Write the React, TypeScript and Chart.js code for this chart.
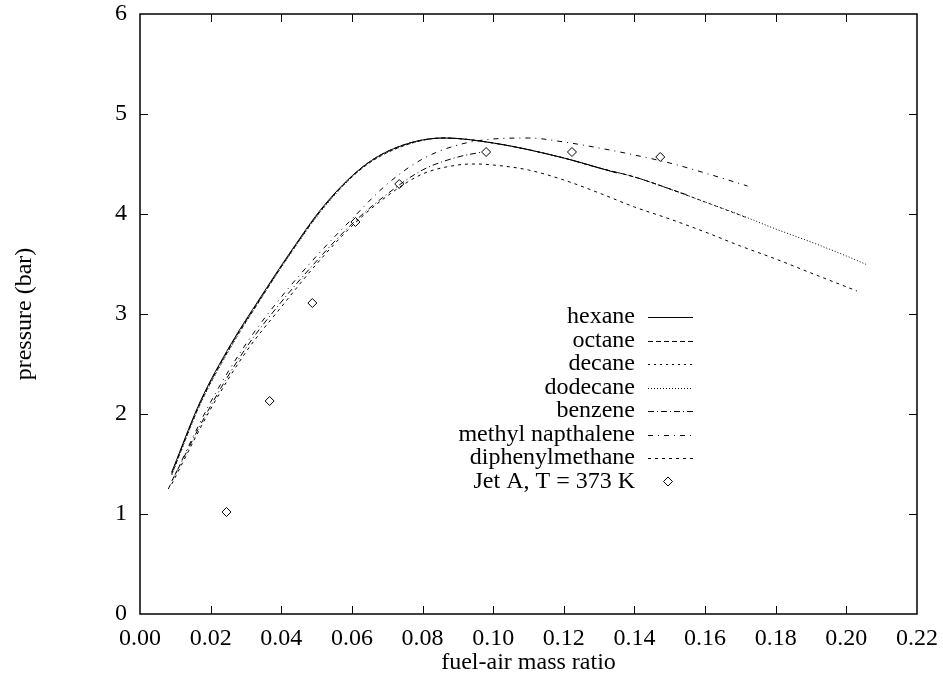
import React, { useEffect, useRef } from "react";
import { Chart, registerables } from "chart.js";

Chart.register(...registerables);

// ---- data (fuel-air mass ratio vs pressure in bar) ----
const hexaneX = [0.009, 0.017, 0.0256, 0.034, 0.0426, 0.052, 0.063, 0.073, 0.086, 0.1, 0.12, 0.135];
const hexaneY = [1.42, 2.12, 2.69, 3.16, 3.62, 4.08, 4.47, 4.67, 4.76, 4.71, 4.56, 4.41];

const octaneX = [0.009, 0.017, 0.0256, 0.034, 0.0426, 0.052, 0.063, 0.073, 0.086, 0.1, 0.12, 0.13, 0.14, 0.155];
const octaneY = [1.41, 2.11, 2.68, 3.15, 3.61, 4.07, 4.47, 4.67, 4.76, 4.71, 4.56, 4.46, 4.37, 4.19];

const decaneX = [0.009, 0.017, 0.0256, 0.034, 0.0426, 0.052, 0.063, 0.073, 0.086, 0.1, 0.12, 0.13, 0.14, 0.15, 0.16, 0.172];
const decaneY = [1.4, 2.1, 2.67, 3.14, 3.61, 4.07, 4.46, 4.66, 4.76, 4.71, 4.56, 4.46, 4.37, 4.25, 4.12, 3.96];

const dodecaneX = [0.009, 0.017, 0.0256, 0.034, 0.0426, 0.052, 0.063, 0.073, 0.086, 0.1, 0.12, 0.13, 0.14, 0.15, 0.16, 0.17, 0.18, 0.19, 0.2, 0.206];
const dodecaneY = [1.39, 2.09, 2.66, 3.14, 3.6, 4.06, 4.46, 4.66, 4.76, 4.71, 4.56, 4.46, 4.37, 4.25, 4.12, 3.99, 3.85, 3.72, 3.58, 3.49];

const benzeneX = [0.009, 0.02, 0.03, 0.04, 0.05, 0.06, 0.07, 0.08, 0.09, 0.097];
const benzeneY = [1.33, 2.08, 2.66, 3.12, 3.53, 3.9, 4.2, 4.44, 4.57, 4.62];

const methylNapX = [0.008, 0.02, 0.03, 0.04, 0.05, 0.06, 0.07, 0.08, 0.09, 0.1, 0.11, 0.12, 0.13, 0.14, 0.15, 0.16, 0.172];
const methylNapY = [1.25, 2.12, 2.7, 3.17, 3.58, 3.95, 4.3, 4.55, 4.69, 4.75, 4.76, 4.72, 4.66, 4.59, 4.51, 4.41, 4.28];

const diphenylX = [0.009, 0.02, 0.03, 0.04, 0.05, 0.06, 0.07, 0.08, 0.09, 0.095, 0.1, 0.11, 0.12, 0.13, 0.14, 0.15, 0.16, 0.17, 0.18, 0.19, 0.203];
const diphenylY = [1.3, 2.05, 2.62, 3.07, 3.5, 3.88, 4.18, 4.4, 4.49, 4.5, 4.49, 4.44, 4.34, 4.21, 4.07, 3.95, 3.82, 3.68, 3.55, 3.41, 3.23];

const jetAX = [0.0245, 0.0367, 0.0488, 0.061, 0.0734, 0.098, 0.1223, 0.1473];
const jetAY = [1.02, 2.13, 3.11, 3.92, 4.3, 4.62, 4.62, 4.57];

const seriesLabels = [
  "hexane",
  "octane",
  "decane",
  "dodecane",
  "benzene",
  "methyl napthalene",
  "diphenylmethane",
];
const seriesX = [hexaneX, octaneX, decaneX, dodecaneX, benzeneX, methylNapX, diphenylX];
const seriesY = [hexaneY, octaneY, decaneY, dodecaneY, benzeneY, methylNapY, diphenylY];
const seriesDash: number[][] = [[], [5, 3], [2, 4], [1, 2], [6, 3, 1, 3], [5, 5, 1, 5], [3, 4]];
const jetALabel = "Jet A, T = 373 K";

const xTickStep = 0.02;
const yTickStep = 1;

const FONT = '"Liberation Serif", "Times New Roman", serif';

const toPoints = (xs: number[], ys: number[]) => xs.map((x, i) => ({ x, y: ys[i] }));

const framePlugin = {
  id: "gnuplotFrame",
  afterDatasetsDraw(chart: any) {
    const { ctx, chartArea, scales } = chart;
    const { left, right, top, bottom } = chartArea;
    ctx.save();
    ctx.strokeStyle = "#000";
    // inward ticks on all sides
    ctx.lineWidth = 1;
    const tl = 8;
    scales.x.ticks.forEach((t: any) => {
      const px = Math.round(scales.x.getPixelForValue(t.value)) + 0.5;
      if (px <= left + 1 || px >= right - 1) return;
      ctx.beginPath();
      ctx.moveTo(px, bottom);
      ctx.lineTo(px, bottom - tl);
      ctx.moveTo(px, top);
      ctx.lineTo(px, top + tl);
      ctx.stroke();
    });
    scales.y.ticks.forEach((t: any) => {
      const py = Math.round(scales.y.getPixelForValue(t.value)) + 0.5;
      if (py <= top + 1 || py >= bottom - 1) return;
      ctx.beginPath();
      ctx.moveTo(left, py);
      ctx.lineTo(left + tl, py);
      ctx.moveTo(right, py);
      ctx.lineTo(right - tl, py);
      ctx.stroke();
    });
    // frame
    ctx.lineWidth = 1.5;
    ctx.strokeRect(left, top, right - left, bottom - top);

    // gnuplot-style key
    const textRight = 635;
    const sampleL = 648;
    const sampleR = 693;
    const rowTop = 317;
    const rowStep = 23.5;
    ctx.font = `24px ${FONT}`;
    ctx.fillStyle = "#000";
    ctx.textAlign = "right";
    ctx.textBaseline = "middle";
    chart.data.datasets.forEach((ds: any, i: number) => {
      const y = rowTop + i * rowStep;
      ctx.fillText(ds.label, textRight, y);
      if (ds.showLine === false) {
        const cx = 668;
        const r = 4.5;
        ctx.setLineDash([]);
        ctx.lineWidth = 1;
        ctx.beginPath();
        ctx.moveTo(cx, y - r);
        ctx.lineTo(cx + r, y);
        ctx.lineTo(cx, y + r);
        ctx.lineTo(cx - r, y);
        ctx.closePath();
        ctx.stroke();
      } else {
        ctx.setLineDash(ds.borderDash || []);
        ctx.lineWidth = 1;
        ctx.beginPath();
        ctx.moveTo(sampleL, Math.round(y) + 0.5);
        ctx.lineTo(sampleR, Math.round(y) + 0.5);
        ctx.stroke();
      }
    });
    ctx.restore();
  },
};

export default function App() {
  const ref = useRef<HTMLCanvasElement | null>(null);

  useEffect(() => {
    if (!ref.current) return;
    const datasets: any[] = seriesLabels.map((label, i) => ({
      label,
      data: toPoints(seriesX[i], seriesY[i]),
      borderColor: "#000",
      borderWidth: 1,
      borderDash: seriesDash[i],
      pointRadius: 0,
      fill: false,
      cubicInterpolationMode: "monotone",
    }));
    datasets.push({
      label: jetALabel,
      data: toPoints(jetAX, jetAY),
      showLine: false,
      borderColor: "#000",
      backgroundColor: "rgba(0,0,0,0)",
      borderWidth: 1,
      pointStyle: "rectRot",
      pointRadius: 4.5,
    });

    const chart = new Chart(ref.current, {
      type: "line",
      data: { datasets },
      plugins: [framePlugin],
      options: {
        responsive: false,
        animation: false,
        devicePixelRatio: 1,
        layout: { padding: { left: 0, right: 26, top: 14, bottom: 0 } },
        plugins: {
          legend: { display: false },
          tooltip: { enabled: false },
        },
        scales: {
          x: {
            type: "linear",
            min: 0,
            max: 0.22,
            grid: { display: false, drawTicks: false },
            border: { display: false },
            afterFit: (s: any) => {
              s.height = 61;
              s.paddingLeft = 0;
              s.paddingRight = 0;
            },
            ticks: {
              stepSize: xTickStep,
              padding: 10,
              color: "#000",
              maxRotation: 0,
              autoSkip: false,
              font: { family: FONT, size: 24 },
              callback: (v: any) => Number(v).toFixed(2),
            },
            title: {
              display: true,
              text: "fuel-air mass ratio",
              color: "#000",
              font: { family: FONT, size: 24, lineHeight: 1 },
              padding: { top: 0, bottom: 0 },
            },
          },
          y: {
            type: "linear",
            min: 0,
            max: 6,
            grid: { display: false, drawTicks: false },
            border: { display: false },
            afterFit: (s: any) => {
              s.width = 140;
              s.paddingTop = 0;
              s.paddingBottom = 0;
            },
            ticks: {
              stepSize: yTickStep,
              padding: 13,
              color: "#000",
              font: { family: FONT, size: 24 },
            },
            title: {
              display: true,
              text: "pressure (bar)",
              color: "#000",
              font: { family: FONT, size: 24, lineHeight: 1 },
              padding: { top: 13, bottom: 0 },
            },
          },
        },
      },
    } as any);
    return () => chart.destroy();
  }, []);

  return (
    <div style={{ position: "absolute", left: 0, top: 0, width: 943, height: 675, background: "#fff" }}>
      <canvas ref={ref} width={943} height={675} style={{ display: "block", width: 943, height: 675 }} />
    </div>
  );
}
